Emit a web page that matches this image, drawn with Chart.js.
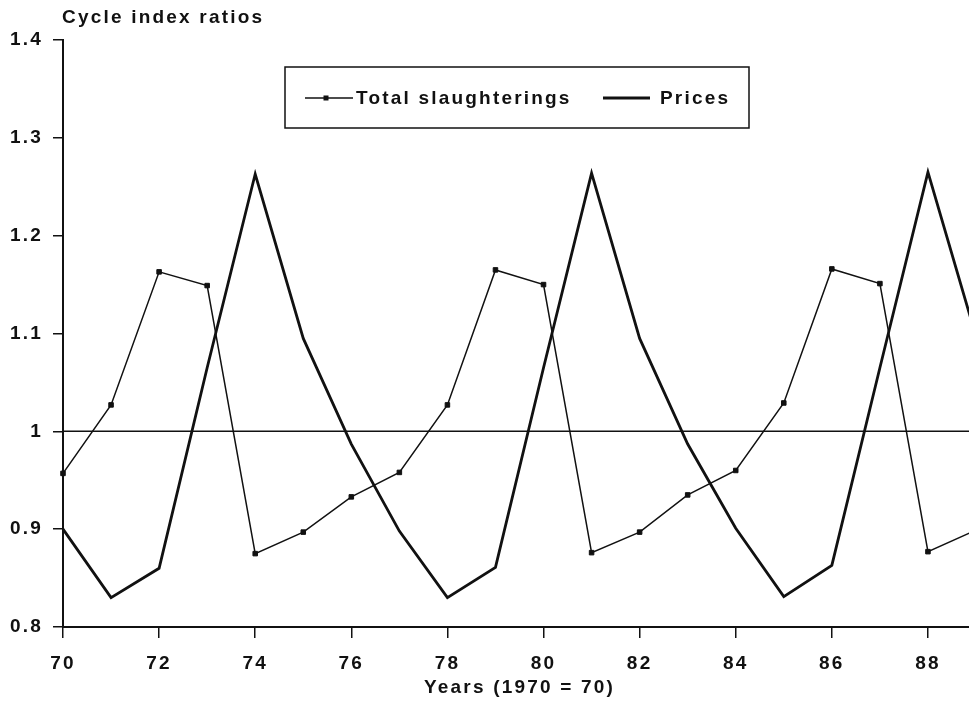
<!DOCTYPE html>
<html>
<head>
<meta charset="utf-8">
<title>Cycle index ratios</title>
<script src="https://cdn.jsdelivr.net/npm/chart.js@4.4.1/dist/chart.umd.min.js"></script>
<style>
  html, body { margin: 0; padding: 0; background: #fff; overflow: hidden; }
  /* plot runs a little past the window on the right, like the scanned original */
  #wrap { width: 990px; height: 703px; }
</style>
</head>
<body>
<div id="wrap"><canvas id="cycleChart" width="990" height="703"></canvas></div>
<script>
// years on the x axis (1970 = 70)
const YEARS = [70, 71, 72, 73, 74, 75, 76, 77, 78, 79, 80, 81, 82, 83, 84, 85, 86, 87, 88, 89];

// cycle index ratios
const SLAUGHTERINGS = [0.957, 1.027, 1.163, 1.149, 0.875, 0.897, 0.933, 0.958, 1.027, 1.165,
                       1.150, 0.876, 0.897, 0.935, 0.960, 1.029, 1.166, 1.151, 0.877, 0.899];
const PRICES = [0.900, 0.830, 0.860, 1.065, 1.263, 1.095, 0.987, 0.898, 0.830, 0.861,
                1.065, 1.264, 1.095, 0.987, 0.901, 0.831, 0.863, 1.065, 1.265, 1.097];
const REFERENCE_LEVEL = 1;

const X_TICKS = [70, 72, 74, 76, 78, 80, 82, 84, 86, 88];
const Y_TICKS = [0.8, 0.9, 1, 1.1, 1.2, 1.3, 1.4];

const Y_TITLE = 'Cycle index ratios';
const X_TITLE = 'Years (1970 = 70)';
const LEGEND_LABELS = ['Total slaughterings', 'Prices'];

const INK = '#111';
const FONT_FAMILY = '"Liberation Sans", Arial, Helvetica, sans-serif';
const TRACKING = '2.2px'; // the old plotter font is widely spaced

function toPoints(values) {
  return YEARS.map((year, i) => ({ x: year, y: values[i] }));
}

// canvas has no css letter-spacing, so set it on the context before layout and draw
const trackingPlugin = {
  id: 'tracking',
  beforeUpdate(chart) { chart.ctx.letterSpacing = TRACKING; },
  beforeDraw(chart) { chart.ctx.letterSpacing = TRACKING; }
};

// axis heading top left + boxed legend inside the plot
const frameTextPlugin = {
  id: 'frameText',
  afterDraw(chart) {
    const { ctx, chartArea } = chart;
    const slaughterDs = chart.data.datasets[1];
    const pricesDs = chart.data.datasets[0];

    ctx.save();
    ctx.letterSpacing = TRACKING;
    ctx.fillStyle = INK;
    ctx.font = `bold 19px ${FONT_FAMILY}`;
    ctx.textBaseline = 'middle';
    ctx.textAlign = 'left';
    ctx.fillText(Y_TITLE, chartArea.left - 1, 18);

    const left = chartArea.left + 222;
    const top = chartArea.top + 27;
    const w = 464, h = 61;
    ctx.fillStyle = '#fff';
    ctx.fillRect(left, top, w, h);
    ctx.strokeStyle = INK;
    ctx.lineWidth = 1.5;
    ctx.strokeRect(left, top, w, h);

    const midY = top + 31;
    // slaughterings sample: thin line with square marker
    ctx.lineWidth = slaughterDs.borderWidth;
    ctx.beginPath();
    ctx.moveTo(left + 20, midY);
    ctx.lineTo(left + 68, midY);
    ctx.stroke();
    ctx.fillStyle = INK;
    ctx.fillRect(left + 38.5, midY - 2.5, 5, 5);

    // prices sample: heavy line
    ctx.lineWidth = pricesDs.borderWidth;
    ctx.beginPath();
    ctx.moveTo(left + 318, midY);
    ctx.lineTo(left + 365, midY);
    ctx.stroke();

    ctx.fillText(LEGEND_LABELS[0], left + 71, midY + 1);
    ctx.fillText(LEGEND_LABELS[1], left + 375, midY + 1);
    ctx.restore();
  }
};

const ctx = document.getElementById('cycleChart').getContext('2d');

const cycleChart = new Chart(ctx, {
  type: 'line',
  data: {
    datasets: [
      {
        label: LEGEND_LABELS[1],
        data: toPoints(PRICES),
        borderColor: INK,
        borderWidth: 2.8,
        pointRadius: 0,
        tension: 0,
        clip: 8
      },
      {
        label: LEGEND_LABELS[0],
        data: toPoints(SLAUGHTERINGS),
        borderColor: INK,
        backgroundColor: INK,
        borderWidth: 1.5,
        pointStyle: 'rect',
        pointRadius: 3.2,
        pointBorderWidth: 1,
        tension: 0,
        clip: 8
      },
      {
        label: 'reference',
        data: [{ x: YEARS[0], y: REFERENCE_LEVEL }, { x: YEARS[YEARS.length - 1], y: REFERENCE_LEVEL }],
        borderColor: INK,
        borderWidth: 1.5,
        pointRadius: 0
      }
    ]
  },
  options: {
    responsive: false,
    animation: false,
    layout: { padding: { top: 40, right: 14, left: 0, bottom: 0 } },
    plugins: {
      legend: { display: false },
      tooltip: { enabled: false },
      title: { display: false }
    },
    scales: {
      x: {
        type: 'linear',
        min: 70,
        max: 89,
        afterBuildTicks: scale => { scale.ticks = X_TICKS.map(v => ({ value: v })); },
        afterFit: scale => { scale.height = 76; },
        grid: { drawOnChartArea: false, drawTicks: true, tickLength: 11, color: INK, lineWidth: 1.5 },
        border: { display: true, color: INK, width: 2 },
        ticks: {
          color: INK,
          padding: 14,
          maxRotation: 0,
          font: { family: FONT_FAMILY, size: 19, weight: 'bold' },
          callback: v => String(v)
        },
        title: {
          display: true,
          text: X_TITLE,
          color: INK,
          padding: { top: 0, bottom: 4 },
          font: { family: FONT_FAMILY, size: 19, weight: 'bold' }
        }
      },
      y: {
        min: 0.8,
        max: 1.4,
        afterBuildTicks: scale => { scale.ticks = Y_TICKS.map(v => ({ value: v })); },
        afterFit: scale => { scale.width = 63; },
        grid: { drawOnChartArea: false, drawTicks: true, tickLength: 10, color: INK, lineWidth: 1.5 },
        border: { display: true, color: INK, width: 2 },
        ticks: {
          color: INK,
          padding: 10,
          font: { family: FONT_FAMILY, size: 19, weight: 'bold' },
          callback: v => String(v)
        }
      }
    }
  },
  plugins: [trackingPlugin, frameTextPlugin]
});
</script>
</body>
</html>
